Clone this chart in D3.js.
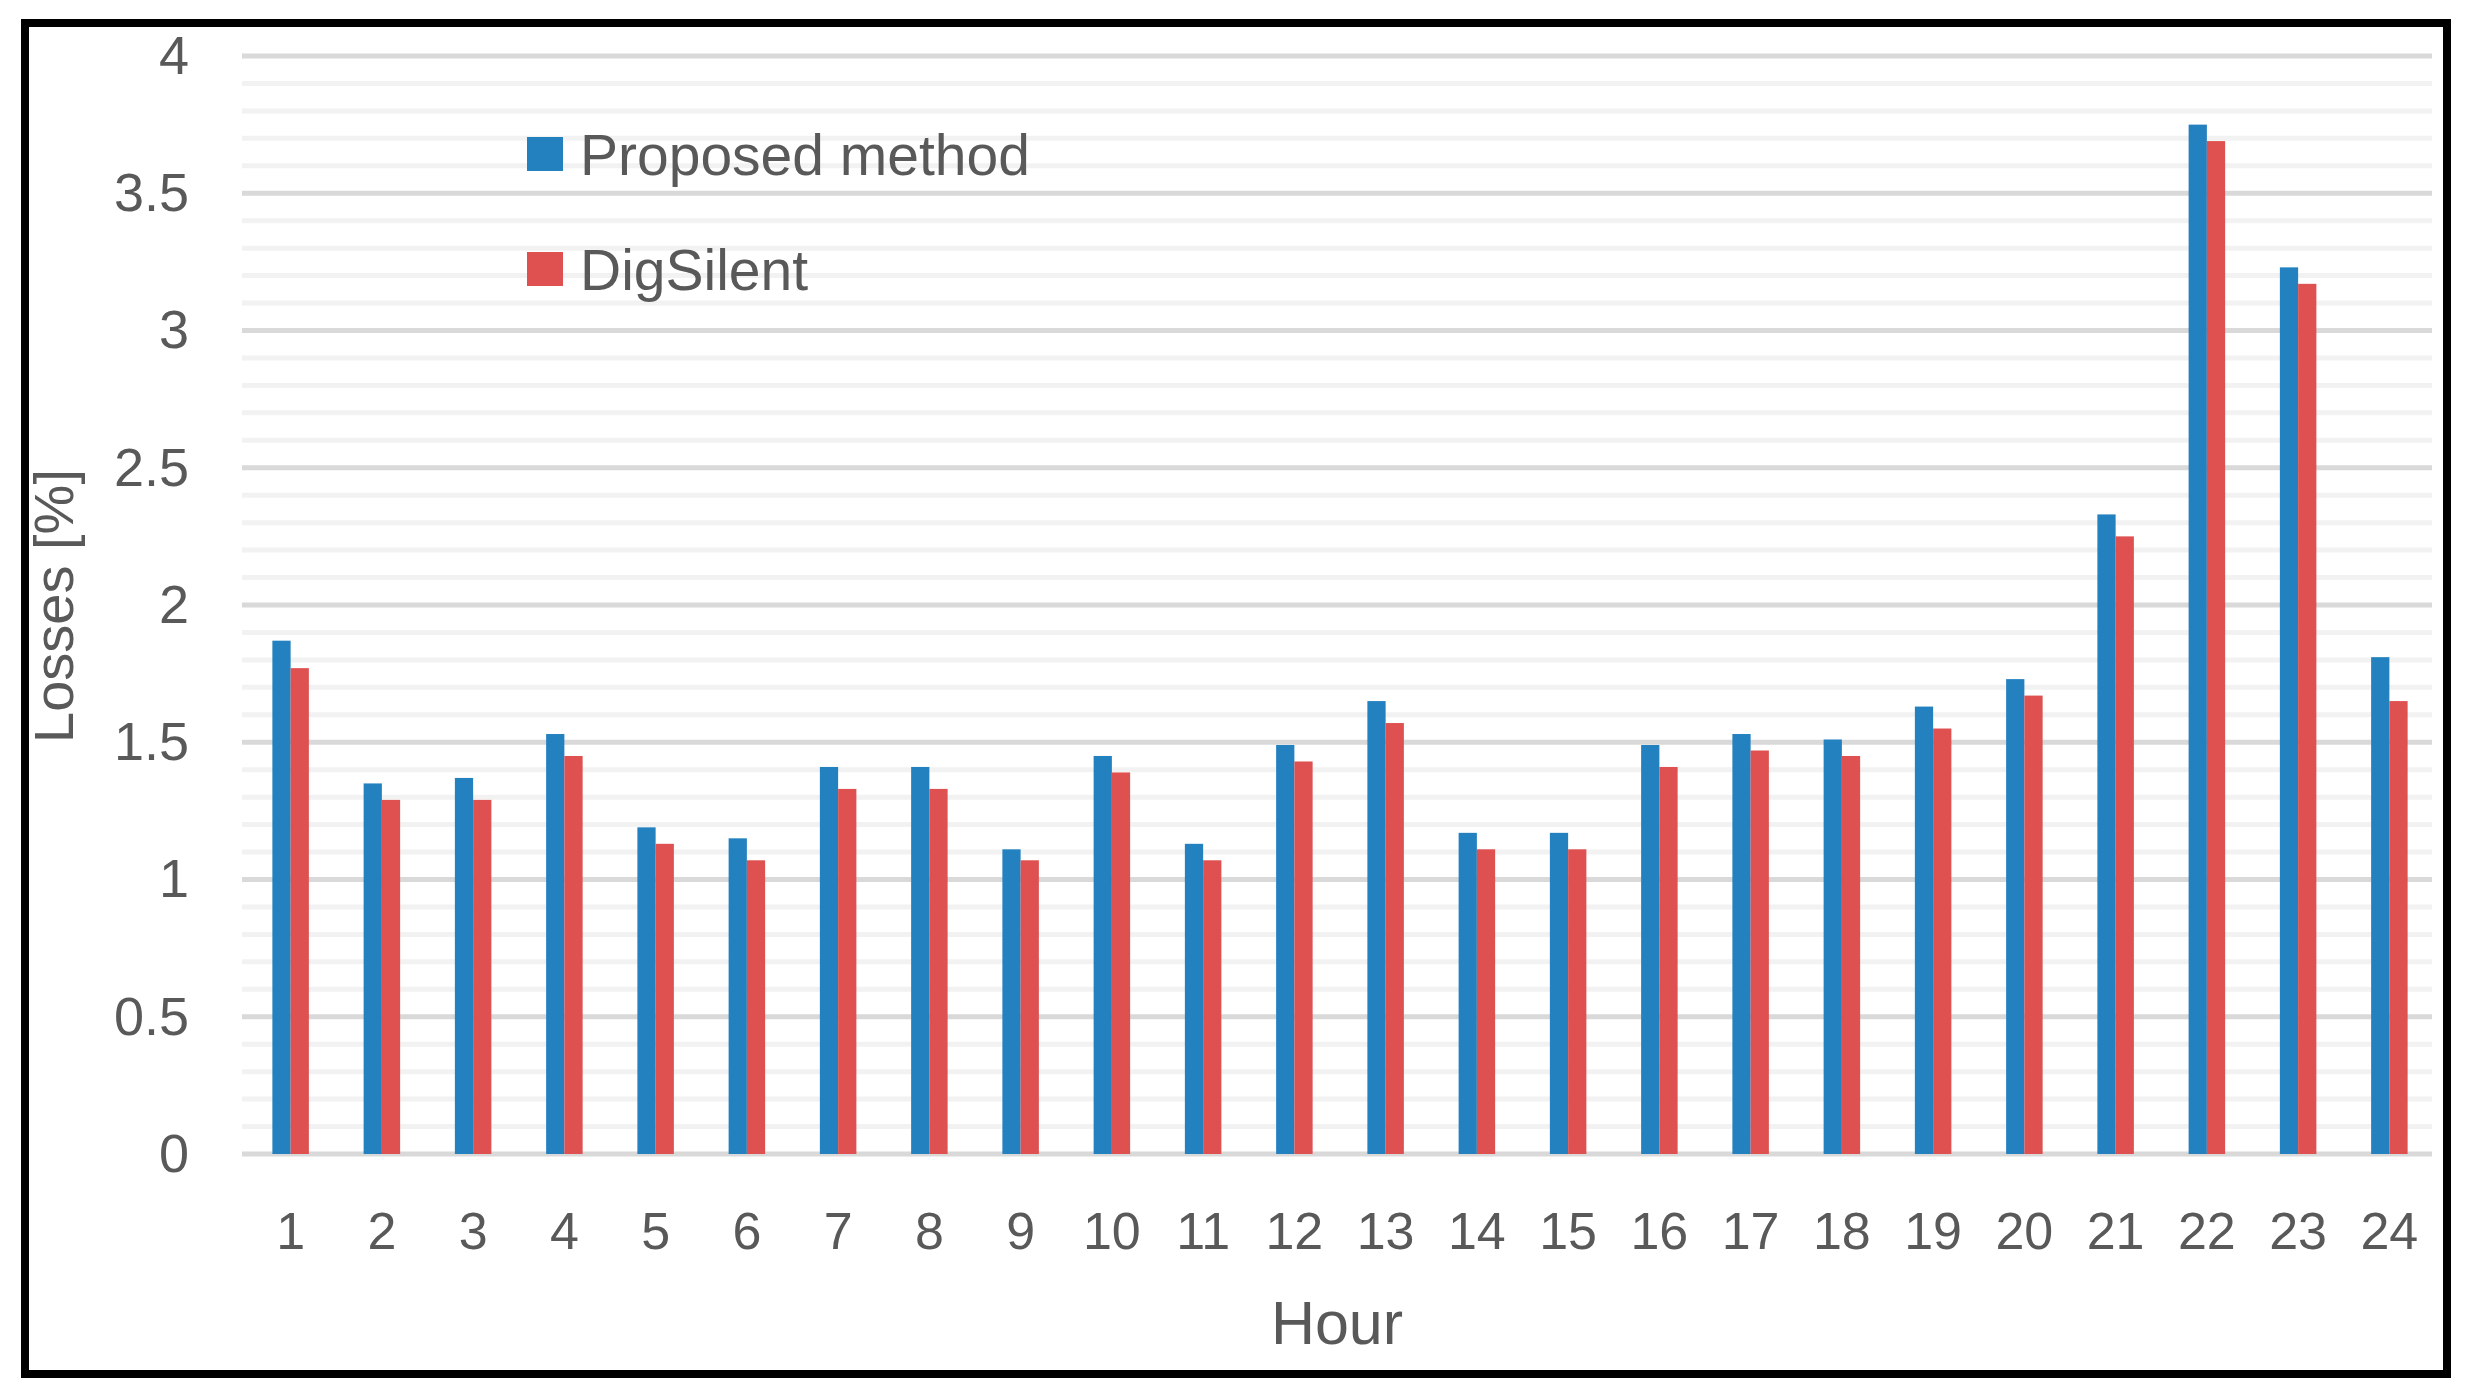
<!DOCTYPE html>
<html>
<head>
<meta charset="utf-8">
<script src="https://cdn.jsdelivr.net/npm/d3@7/dist/d3.min.js"></script>
<style>
  html, body { margin: 0; padding: 0; background: #ffffff; }
  svg { display: block; }
  text { font-family: "Liberation Sans", Arial, sans-serif; fill: #595959; }
</style>
</head>
<body>
<svg id="chart" width="2469" height="1400"></svg>
<script>
const hours = ["1","2","3","4","5","6","7","8","9","10","11","12","13","14","15","16","17","18","19","20","21","22","23","24"];
const proposed = [1.87,1.35,1.37,1.53,1.19,1.15,1.41,1.41,1.11,1.45,1.13,1.49,1.65,1.17,1.17,1.49,1.53,1.51,1.63,1.73,2.33,3.75,3.23,1.81];
const digsilent = [1.77,1.29,1.29,1.45,1.13,1.07,1.33,1.33,1.07,1.39,1.07,1.43,1.57,1.11,1.11,1.41,1.47,1.45,1.55,1.67,2.25,3.69,3.17,1.65];
const seriesNames = ["Proposed method", "DigSilent"];
const seriesColors = ["#2481c0", "#de5150"];
const yTicks = [0, 0.5, 1, 1.5, 2, 2.5, 3, 3.5, 4];
const yTickLabels = ["0", "0.5", "1", "1.5", "2", "2.5", "3", "3.5", "4"];
const xTitle = "Hour";
const yTitle = "Losses [%]";

(function () {
const svg = d3.select("#chart");
const pLeft = 242, pRight = 2432, pTop = 56, pBottom = 1154;

const x = d3.scaleBand().domain(hours).range([pLeft + 3, pRight + 3]).paddingInner(0).paddingOuter(0);
const groupW = x.bandwidth() / 2.5;
const xs = d3.scaleBand().domain([0, 1]).range([0, groupW]);
const y = d3.scaleLinear().domain([0, 4]).range([pBottom, pTop]);

// minor gridlines
const minor = d3.range(1, 40).map(d => d / 10).filter(v => Math.abs(v * 2 - Math.round(v * 2)) > 1e-6);
svg.append("g").selectAll("line").data(minor).join("line")
  .attr("x1", pLeft).attr("x2", pRight)
  .attr("y1", d => y(d)).attr("y2", d => y(d))
  .attr("stroke", "#f2f2f2").attr("stroke-width", 5);

// major gridlines
svg.append("g").selectAll("line").data(yTicks).join("line")
  .attr("x1", pLeft).attr("x2", pRight)
  .attr("y1", d => y(d)).attr("y2", d => y(d))
  .attr("stroke", "#d9d9d9").attr("stroke-width", 5);

// bars
const series = [proposed, digsilent];
series.forEach((vals, si) => {
  svg.append("g").selectAll("rect").data(vals).join("rect")
    .attr("x", (d, i) => x(hours[i]) + (x.bandwidth() - groupW) / 2 + xs(si))
    .attr("width", xs.bandwidth())
    .attr("y", d => y(d))
    .attr("height", d => y(0) - y(d))
    .attr("fill", seriesColors[si]);
});

// y axis labels
const yAxis = d3.axisLeft(y).tickValues(yTicks).tickFormat((d, i) => yTickLabels[i]).tickSize(0).tickPadding(0);
const gy = svg.append("g").attr("transform", "translate(189,0)").call(yAxis);
gy.select(".domain").remove();
gy.selectAll("text").attr("font-size", 54).attr("fill", "#595959")
  .style("font-family", "'Liberation Sans', Arial, sans-serif");

// x axis labels
const xAxis = d3.axisBottom(x).tickSize(0).tickPadding(0);
const gx = svg.append("g").attr("transform", "translate(0,1212)").call(xAxis);
gx.select(".domain").remove();
gx.selectAll("text").attr("font-size", 52).attr("fill", "#595959").attr("dy", "0.71em")
  .style("font-family", "'Liberation Sans', Arial, sans-serif");

// axis titles
svg.append("text").attr("x", (pLeft + pRight) / 2).attr("y", 1344)
  .attr("text-anchor", "middle").attr("font-size", 61).text(xTitle);
svg.append("text").attr("transform", "translate(73,606) rotate(-90)")
  .attr("text-anchor", "middle").attr("font-size", 56).text(yTitle);

// legend
const legend = svg.append("g");
seriesNames.forEach((name, i) => {
  const ly = 137 + i * 115;
  legend.append("rect").attr("x", 527).attr("y", ly).attr("width", 36).attr("height", 34).attr("fill", seriesColors[i]);
  legend.append("text").attr("x", 580).attr("y", ly + 38).attr("font-size", 57).text(name);
});

// frame
svg.append("rect").attr("x", 25).attr("y", 23).attr("width", 2422).attr("height", 1351)
  .attr("fill", "none").attr("stroke", "#000").attr("stroke-width", 8);
})();
</script>
</body>
</html>
